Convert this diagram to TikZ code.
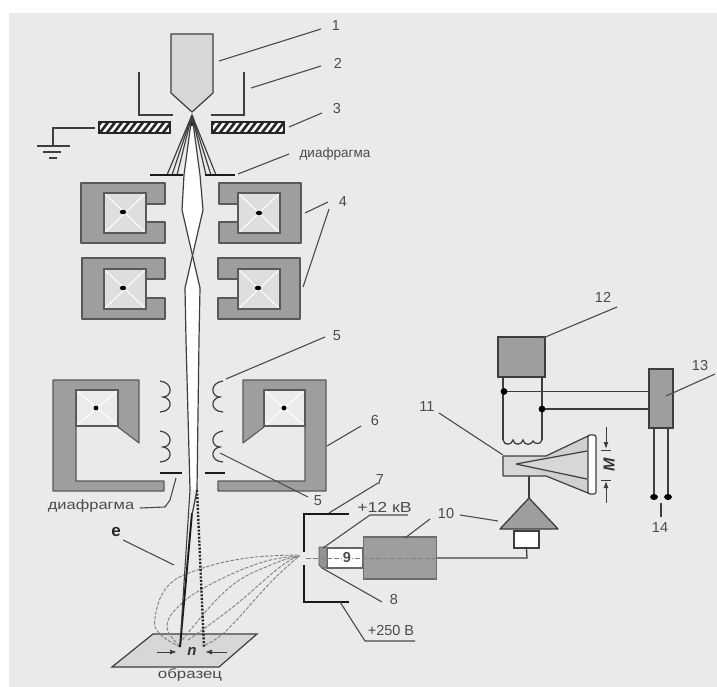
\documentclass[tikz,border=0pt]{standalone}
\usepackage{fontspec}
\usepackage{graphicx}
\setmainfont{Liberation Sans}
\usetikzlibrary{arrows.meta}
\definecolor{bgc}{RGB}{234,234,234}
\definecolor{core}{RGB}{158,158,158}
\definecolor{ink}{RGB}{62,62,62}
\definecolor{lead}{RGB}{75,75,75}
\definecolor{lite}{RGB}{215,215,215}
\definecolor{coilfill}{RGB}{222,222,222}
\tikzset{
 yoke/.style={draw=black!65,fill=core,line width=1.1pt,line join=round},
 coilx/.style={draw=white,line width=1pt},
 leadline/.style={draw=lead,line width=1.1pt},
 labb/.style={text=lead,font=\fontsize{14.5}{15}\selectfont,inner sep=0pt},
 smalllab/.style={text=lead,font=\fontsize{13.5}{15}\selectfont,inner sep=0pt},
 wire/.style={draw=ink,line width=1.3pt},
 beam/.style={draw=ink,line width=1.2pt},
 emis/.style={draw=gray,line width=0.9pt,dash pattern=on 3.5pt off 1.5pt},
 grayblock/.style={draw=gray!85!black,fill=core,line width=1.2pt}
}
\newcommand{\coilcross}[5]{% x1 y1 x2 y2 fill
 \fill[#5] (#1,#2) rectangle (#3,#4);
 \draw[coilx] (#1,#2) -- (#3,#4) (#1,#4) -- (#3,#2);
 \draw[black!65,line width=1.1pt] (#1,#2) rectangle (#3,#4);
}
\newcommand{\hatchbar}[2]{% x1 x2
 \begin{scope}
 \clip (#1,122) rectangle (#2,133);
 \fill[white] (#1,122) rectangle (#2,133);
 \foreach \k in {-2,...,11}{
  \draw[black!85,line width=2.6pt] ({#1+\k*7},134) -- ({#1+\k*7+10},121);
 }
 \end{scope}
 \draw[black!85,line width=1.4pt] (#1,122) rectangle (#2,133);
}
\begin{document}
\begin{tikzpicture}[x=1pt,y=-1pt]
\useasboundingbox (0,0) rectangle (717,687);
\fill[white] (0,0) rectangle (717,687);
\fill[bgc] (9,13) rectangle (717,687);
% gun
\draw[ink,fill=lite,line width=1.2pt] (171,34) -- (213,34) -- (213,93) -- (192,112) -- (171,93) -- cycle;
% wehnelt
\draw[ink,line width=1.5pt] (139,72) -- (139,115) -- (173,115);
\draw[ink,line width=1.5pt] (244,72) -- (244,115) -- (211,115);
% anode
\hatchbar{99}{170}
\hatchbar{212}{284}
% ground
\coordinate (gnd) at (53,146);
\draw[ink,line width=1.2pt] (95,128) -- (53,128) -- (gnd);
\draw[ink,line width=1.2pt] (37,146) -- (70,146) (43,152) -- (61,152) (49,158) -- (57,158);
% upper lens yokes
\draw[yoke] (81,183) -- (165,183) -- (165,204) -- (146,204) -- (146,222) -- (165,222) -- (165,243) -- (81,243) -- cycle;
\draw[yoke] (301,183) -- (219,183) -- (219,204) -- (238,204) -- (238,222) -- (219,222) -- (219,243) -- (301,243) -- cycle;
\draw[yoke] (82,258) -- (165,258) -- (165,279) -- (146,279) -- (146,298) -- (165,298) -- (165,319) -- (82,319) -- cycle;
\draw[yoke] (300,258) -- (218,258) -- (218,279) -- (238,279) -- (238,298) -- (218,298) -- (218,319) -- (300,319) -- cycle;
\coilcross{104}{193}{146}{233}{coilfill}
\coilcross{238}{193}{280}{233}{coilfill}
\coilcross{104}{269}{146}{309}{coilfill}
\coilcross{238}{269}{280}{309}{coilfill}
\fill[black] (123,212) ellipse (3.2 and 2.2) (259,213) ellipse (3.2 and 2.2) (123,288) ellipse (3.2 and 2.2) (258,288) ellipse (3.2 and 2.2);
% beam upper
\fill[white] (192,116) -- (200,175) -- (203,210) -- (192,257) -- (182,210) -- (184,175) -- cycle;
\fill[white] (192,257) -- (200,288) -- (199,340) -- (197,490) -- (190,490) -- (186,340) -- (185,288) -- cycle;
\fill[black!85] (192,114) -- (188,126) -- (196,126) -- cycle;
\foreach \a in {167,172,177,216,211,206}{
 \draw[ink,line width=1.2pt] (192,115) -- (\a,175);
}
\draw[beam] (192,115) -- (184,175) -- (182,210) -- (200,288) -- (199,340) -- (197,490);
\draw[beam] (192,115) -- (200,175) -- (203,210) -- (185,288) -- (186,340) -- (190,490);
% diaphragm 1
\draw[black!90,line width=1.7pt] (150,175) -- (183,175);
\draw[black!90,line width=1.7pt] (205,175) -- (235,175);
% lower lens yokes
\draw[yoke] (53,380) -- (139,380) -- (139,443) -- (118,427) -- (118,390) -- (76,390) -- (76,481) -- (164,481) -- (164,491) -- (53,491) -- cycle;
\draw[yoke] (326,380) -- (243,380) -- (243,443) -- (264,427) -- (264,390) -- (305,390) -- (305,481) -- (218,481) -- (218,491) -- (326,491) -- cycle;
\coilcross{76}{390}{118}{426}{white!40!coilfill}
\coilcross{264}{390}{305}{426}{white!40!coilfill}
\fill[black] (96,408) circle (2.4) (284,408) circle (2.4);
% stig coils
\foreach \yy in {381,431}{
 \draw[ink,line width=1.2pt] (160,\yy) .. controls (174,\yy+2) and (172,\yy+16) .. (163,\yy+16) .. controls (172,\yy+17) and (174,\yy+30) .. (160,\yy+31);
 \draw[ink,line width=1.2pt] (223,\yy) .. controls (209,\yy+2) and (211,\yy+16) .. (220,\yy+16) .. controls (211,\yy+17) and (209,\yy+30) .. (223,\yy+31);
}
% diaphragm 2
\draw[black!90,line width=1.8pt] (160,473) -- (182,473);
\draw[black!90,line width=1.8pt] (205,473) -- (225,473);
% sample
\draw[ink,fill=lite,line width=1.2pt] (153,634) -- (257,634) -- (219,667) -- (112,667) -- cycle;
% secondary electrons
\draw[emis] plot[smooth,tension=0.7] coordinates {(180,647) (160,634) (155,618) (167,587) (197,570) (247,558) (300,555)};
\draw[emis] plot[smooth,tension=0.7] coordinates {(180,646) (167,627) (180,605) (213,583) (263,562) (300,556)};
\draw[emis] plot[smooth,tension=0.7] coordinates {(181,644) (187,634) (230,587) (273,564) (300,556)};
\draw[emis] plot[smooth,tension=0.7] coordinates {(188,640) (233,607) (280,567) (300,556)};
\draw[emis] plot[smooth,tension=0.7] coordinates {(205,645) (227,630) (270,583) (298,557)};
% primary beams
\draw[black!90,line width=1.9pt] (192,513) -- (180,647);
\draw[ink,line width=1.1pt] (190,490) -- (181,630);
\draw[ink,line width=1.2pt] (197,490) -- (192,515);
\draw[black!85,line width=2.4pt,dash pattern=on 2pt off 1.6pt] (197,490) -- (204,647);
% n arrows
\node[font=\itshape\bfseries\fontsize{15}{15}\selectfont,text=black!80,inner sep=0pt] (nlab) at (192,651) {n};
\coordinate (nl) at (157,652);
\coordinate (nr) at (227,652);
\draw[ink,line width=1pt,-{Latex[length=7pt,width=5pt]}] (nl) -- (177,652);
\draw[ink,line width=1pt,-{Latex[length=7pt,width=5pt]}] (nr) -- (205,652);
% collector
\draw[black!90,line width=2.8pt] (304,514) -- (304,552);
\draw[black!90,line width=2.8pt] (304,565) -- (304,602);
\draw[black!90,line width=2.8pt] (303,514) -- (349,514);
\draw[black!90,line width=2.8pt] (303,602) -- (349,602);
% scintillator + light guide
\draw[gray!80!black,fill=white,line width=1.1pt] (327,548) rectangle (363,568);
\draw[gray!70!black,fill=gray!85,line width=0.9pt] (319,547) -- (327,547) -- (327,568) -- (322,568) -- (319,565) -- cycle;
% PMT
\node[grayblock,minimum width=73pt,minimum height=42pt,inner sep=0pt] (pmt) at (400,558) {};
\draw[gray,line width=0.9pt,dash pattern=on 5pt off 2pt] (306,558) -- (pmt.east);
\node[font=\fontsize{14.5}{15}\selectfont\bfseries,text=lead,fill=white,inner sep=0.5pt] (nine) at (347,558) {9};
% amplifier
\draw[ink,fill=core,line width=1.3pt,line join=round] (529,498) -- (500,529) -- (558,529) -- cycle;
\node[draw=ink,fill=white,line width=1.2pt,minimum width=25pt,minimum height=17pt,inner sep=0pt] (preamp) at (526.5,539.5) {};
\draw[wire] (pmt.east) -- (527,558) -- (preamp.south);
% CRT
\fill[lite] (503,456) -- (546,456) -- (588,436) -- (588,493) -- (546,476) -- (503,476) -- cycle;
\fill[lite!88!core] (546,456) -- (588,436) -- (587,451) -- (516,464) -- cycle;
\fill[lite!88!core] (546,476) -- (588,493) -- (587,479) -- (516,464) -- cycle;
\draw[ink,line width=1.2pt] (503,456) -- (546,456) -- (588,436) (503,476) -- (546,476) -- (588,493) (503,456) -- (503,476);
\draw[ink,line width=1.2pt] (516,464) -- (587,451) (516,464) -- (587,479);
\draw[ink,fill=white,line width=1.2pt,rounded corners=2pt] (588,435) rectangle (596,494);
\draw[wire] (529,476) -- (529,498);
% M arrows
\coordinate (mt) at (606,427);
\coordinate (mb) at (606,503);
\draw[ink,line width=0.9pt,-{Latex[length=7pt,width=5pt]}] (mt) -- (606,449);
\draw[ink,line width=0.9pt,-{Latex[length=7pt,width=5pt]}] (mb) -- (606,481);
\draw[ink,line width=1pt] (601,450) -- (611,450) (601,480) -- (611,480);
\node[font=\bfseries\itshape\fontsize{16}{16}\selectfont,text=black!80,inner sep=0pt,rotate=90] (mlab) at (609,464.5) {M};
% deflection coil
\node[draw=ink,fill=core,line width=1.4pt,minimum width=47pt,minimum height=40pt,inner sep=0pt] (coilb) at (521.5,357) {};
\draw[wire] (503,377) -- (503,440);
\draw[wire] (542,377) -- (542,440);
\draw[wire] (503,440) .. controls (504,446) and (512,445) .. (513,440) .. controls (514,446) and (522,445) .. (523,440) .. controls (524,446) and (532,445) .. (533,441) .. controls (534,444) and (541,445) .. (542,440);
% block 13
\node[draw=ink,fill=core,line width=1.4pt,minimum width=24pt,minimum height=59pt,inner sep=0pt] (b13) at (661,398.5) {};
\coordinate (j1) at (504,391.5);
\coordinate (j2) at (542,409);
\draw[wire] (j1) -- (649,391.5);
\draw[wire] (j2) -- (649,409);
\fill[black] (j1) circle (3.4) (j2) circle (3.4);
\draw[wire] (654,428) -- (654,497) (668,428) -- (668,497);
\fill[black] (654,497) ellipse (3.9 and 3) (668,497) ellipse (3.9 and 3);
\draw[ink,line width=1.2pt] (661,503) -- (661,517);
% leads
\draw[leadline] (219,61) -- (321,29);
\draw[leadline] (251,88) -- (321,66);
\draw[leadline] (289,127) -- (322,113);
\draw[leadline] (238,174) -- (289,154);
\draw[leadline] (305,213) -- (328,202) (329,209) -- (303,287);
\draw[leadline] (226,379) -- (325,337);
\draw[leadline] (220,453) -- (308,497);
\draw[leadline] (327,446) -- (361,426);
\draw[leadline] (329,513) -- (378,483);
\draw[leadline] (323,548) -- (370,515) -- (408,515);
\draw[leadline] (322,568) -- (382,602);
\draw[leadline] (405,538) -- (430,519);
\draw[leadline] (460,515) -- (498,521);
\draw[leadline] (503,455) -- (439,413);
\draw[leadline] (543,338) -- (617,307);
\draw[leadline] (666,396) -- (715,374);
\draw[leadline] (340,602) -- (365,641) -- (415,641);
\draw[leadline] (176,478) -- (170,500) -- (165,507) -- (140,508);
\draw[leadline] (123,540) -- (174,565);
% labels
\node[labb] (t1) at (336,26) {1};
\node[labb] (t2) at (338,63) {2};
\node[labb] (t3) at (337,109) {3};
\node[labb] (t4) at (343,202) {4};
\node[labb] (t5a) at (337,336) {5};
\node[labb] (t5b) at (318,501) {5};
\node[labb] (t6) at (375,421) {6};
\node[labb] (t7) at (380,480) {7};
\node[labb] (t8) at (394,600) {8};
\node[labb] (t10) at (446,514) {10};
\node[labb] (t11) at (427,407) {11};
\node[labb] (t12) at (603,297) {12};
\node[labb] (t13) at (700,366) {13};
\node[labb] (t14) at (660,528) {14};
\node[labb] (tk) at (384.5,507) {\scalebox{1.22}[1]{+12 кВ}};
\node[labb] (tv) at (391,631) {+250 В};
\node[smalllab] (d1) at (335,154) {диафрагма};
\node[smalllab] (d2) at (91,506) {\scalebox{1.22}[1]{диафрагма}};
\node[smalllab,font=\bfseries\fontsize{17}{17}\selectfont,text=black!85] (te) at (116,532) {е};
\node[smalllab] (ob) at (190,675) {\scalebox{1.25}[1]{образец}};
\end{tikzpicture}
\end{document}
